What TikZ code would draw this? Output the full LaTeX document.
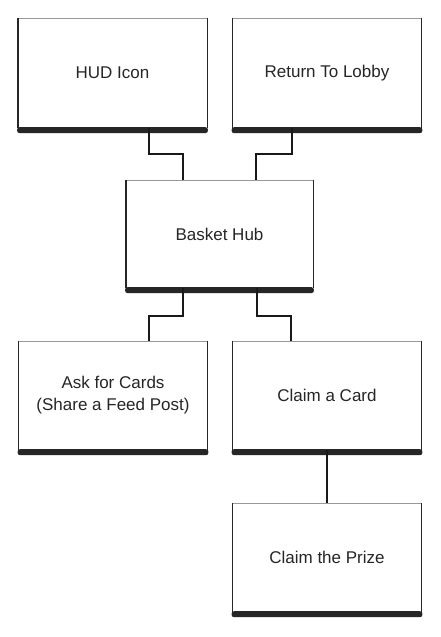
\documentclass[tikz,border=0pt]{standalone}
\usepackage{fontspec}
\setmainfont{Liberation Sans}
\usetikzlibrary{calc}
\newcommand{\boxfont}{\fontsize{17}{22}\selectfont}
\begin{document}
\begin{tikzpicture}[x=1pt,y=-1pt,
  box/.style={fill=white, minimum width=189pt, minimum height=110pt, inner sep=0pt, align=center, font=\boxfont, text=black!85},
  shade/.style={fill=black!85, rounded corners=2.5pt},
  side/.style={line width=1.4pt, black!85},
  rim/.style={line width=0.6pt, black!40},
  conn/.style={line width=2pt, black!90}]
\useasboundingbox (0,0) rectangle (440,637);
\fill[white] (0,0) rectangle (440,637);
\node[box] (hud) at (112.5,73) {HUD Icon};
\node[box] (lobby) at (327,73) {Return To Lobby};
\node[box, minimum width=187pt, minimum height=108pt] (basket) at (219.5,234) {Basket Hub};
\node[box, minimum height=109pt] (ask) at (113,395.5) {Ask for Cards\\(Share a Feed Post)};
\node[box, minimum height=109pt] (card) at (327,395.5) {Claim a Card};
\node[box, minimum height=109pt] (prize) at (327,557.5) {Claim the Prize};
\foreach \n in {hud,lobby,basket,ask,card,prize}{
  \fill[shade] ($(\n.south west)+(-0.7,-1)$) rectangle ($(\n.south east)+(0.7,5)$);
  \draw[rim] (\n.north west) -- (\n.north east);
  \draw[side] (\n.north west) -- (\n.south west);
  \draw[side] (\n.north east) -- (\n.south east);
}
\draw[conn] ($(hud.south)+(36.5,0)$) -- ++(0,26) -| ($(basket.north)+(-36.5,0)$);
\draw[conn] ($(lobby.south)+(-35,0)$) -- ++(0,26) -| ($(basket.north)+(36.5,0)$);
\draw[conn] ($(basket.south)+(-36.5,0)$) -- ++(0,28) -| ($(ask.north)+(36,0)$);
\draw[conn] ($(basket.south)+(37.5,0)$) -- ++(0,28) -| ($(card.north)+(-36,0)$);
\draw[conn] (card.south) -- (prize.north);
\end{tikzpicture}
\end{document}
